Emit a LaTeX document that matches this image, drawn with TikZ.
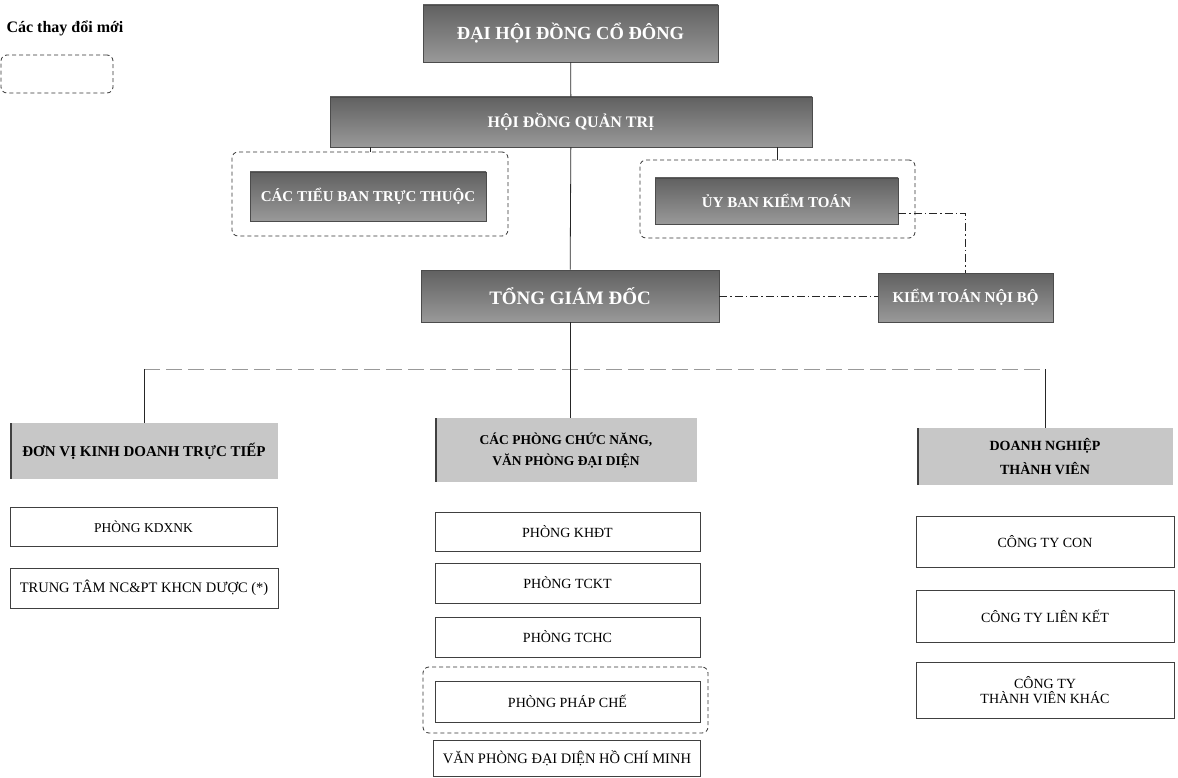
\documentclass[tikz,border=0pt]{standalone}
\usepackage{fontspec}
\setmainfont{Liberation Serif}
\usetikzlibrary{positioning}

\begin{document}
\begin{tikzpicture}[x=1pt,y=-1pt,
	darkbox/.style={draw=black!70, line width=0.6pt, top color=black!62, bottom color=black!40, text=white, font=\bfseries\fontsize{16}{18}\selectfont, inner sep=0pt},
	smalldark/.style={darkbox, font=\bfseries\fontsize{15}{17}\selectfont},
	headbox/.style={fill=black!22, font=\bfseries\fontsize{14}{21}\selectfont, align=center, inner sep=0pt,
		path picture={\draw[line width=3pt, black!75] (path picture bounding box.north west) -- (path picture bounding box.south west);}},
	unitbox/.style={draw=black!75, line width=0.9pt, fill=white, font=\fontsize{14}{15}\selectfont, align=center, inner sep=0pt},
	newgroup/.style={draw=black!80, dash pattern=on 4pt off 3pt, rounded corners=6pt, line width=0.8pt, inner sep=0pt},
	link/.style={draw=black!85, line width=0.8pt},
	dotlink/.style={draw=black!85, line width=0.8pt, dash pattern=on 8pt off 3pt on 1.5pt off 3pt},
	buslink/.style={draw=black!40, line width=0.8pt, dash pattern=on 16pt off 6pt}]
	\useasboundingbox (0,0) rectangle (1178,778);
	%\draw[help lines] (0,0) grid[step=50] (1178,778);
	%CHU THICH
	\node[anchor=west, font=\bfseries\fontsize{16}{18}\selectfont] (legend) at (3,28) {Các thay đổi mới};
	\node[newgroup, minimum width=112pt, minimum height=38pt] (legendbox) at (57,74) {};
	%DAI HOI DONG CO DONG
	\node[darkbox, font=\bfseries\fontsize{18.5}{20}\selectfont, minimum width=295pt, minimum height=57pt] (dhdcd) at (570.5,33.5) {ĐẠI HỘI ĐỒNG CỔ ĐÔNG};
	%HOI DONG QUAN TRI
	\node[darkbox, minimum width=482pt, minimum height=50pt] (hdqt) at (571,122) {HỘI ĐỒNG QUẢN TRỊ};
	%CAC TIEU BAN
	\node[newgroup, minimum width=276pt, minimum height=84pt] (tbgroup) at (370,194) {};
	\node[smalldark, minimum width=236pt, minimum height=49pt] (tieuban) at (368,196.5) {CÁC TIỂU BAN TRỰC THUỘC};
	%UY BAN KIEM TOAN
	\node[newgroup, minimum width=275pt, minimum height=78pt] (ubgroup) at (777.5,199) {};
	\node[smalldark, minimum width=243pt, minimum height=46pt] (ubkt) at (776.5,201) {ỦY BAN KIỂM TOÁN};
	%TONG GIAM DOC
	\node[darkbox, font=\bfseries\fontsize{19}{21}\selectfont, minimum width=298pt, minimum height=52pt] (tgd) at (570,296) {TỔNG GIÁM ĐỐC};
	%KIEM TOAN NOI BO
	\node[smalldark, minimum width=175pt, minimum height=49pt] (ktnb) at (965.5,297.5) {KIỂM TOÁN NỘI BỘ};

	%BA KHOI
	\node[headbox, font=\bfseries\fontsize{15}{21}\selectfont, minimum width=268pt, minimum height=56pt] (dvkd) at (144,451) {ĐƠN VỊ KINH DOANH TRỰC TIẾP};
	\node[headbox, font=\bfseries\fontsize{13.5}{21}\selectfont, minimum width=262pt, minimum height=64pt] (cpcn) at (566,450) {CÁC PHÒNG CHỨC NĂNG,\\VĂN PHÒNG ĐẠI DIỆN};
	\node[headbox, minimum width=256pt, minimum height=57pt] (dntv) at (1045,456.5) {DOANH NGHIỆP\\[3pt]THÀNH VIÊN};

	%DON VI KINH DOANH
	\node[unitbox, font=\fontsize{13.5}{15}\selectfont, minimum width=267pt, minimum height=39pt] (kdxnk) at (143.5,526.5) {PHÒNG KDXNK};
	\node[unitbox, font=\fontsize{14.5}{16}\selectfont, minimum width=268pt, minimum height=40pt] (ttnc) at (144,588) {TRUNG TÂM NC\&PT KHCN DƯỢC (*)};
	%CAC PHONG
	\node[unitbox, minimum width=265pt, minimum height=39pt] (khdt) at (567.5,531.5) {PHÒNG KHĐT};
	\node[unitbox, minimum width=265pt, minimum height=40pt] (tckt) at (567.5,583) {PHÒNG TCKT};
	\node[unitbox, minimum width=265pt, minimum height=40pt] (tchc) at (567.5,637) {PHÒNG TCHC};
	\node[newgroup, minimum width=285pt, minimum height=66pt] (ppcgroup) at (565.5,700) {};
	\node[unitbox, minimum width=265pt, minimum height=41pt] (ppc) at (567.5,701.5) {PHÒNG PHÁP CHẾ};
	\node[unitbox, font=\fontsize{14.5}{16}\selectfont, minimum width=267pt, minimum height=36pt] (vpdd) at (567,758) {VĂN PHÒNG ĐẠI DIỆN HỒ CHÍ MINH};
	%DOANH NGHIEP THANH VIEN
	\node[unitbox, minimum width=258pt, minimum height=51pt] (ctc) at (1045,541.5) {CÔNG TY CON};
	\node[unitbox, minimum width=258pt, minimum height=52pt] (ctlk) at (1045,616) {CÔNG TY LIÊN KẾT};
	\node[unitbox, minimum width=258pt, minimum height=56pt] (cttvk) at (1045,690) {CÔNG TY\\THÀNH VIÊN KHÁC};

	%DUONG NOI
	\draw[link] (dhdcd) -- (hdqt);
	\draw[link] (tbgroup.north |- hdqt.south) -- (tbgroup.north);
	\draw[link] (ubgroup.north |- hdqt.south) -- (ubgroup.north);
	\draw[link] (hdqt) -- (tgd);
	\draw[dotlink] ([yshift=-12pt]ubkt.east) -| (ktnb.north);
	\draw[dotlink] (tgd.east) -- (tgd.east -| ktnb.west);
	\coordinate (busL) at (dvkd.north |- 0,369);
	\coordinate (busR) at (dntv.north |- 0,369);
	\draw[buslink] (busL) -- (busR);
	\draw[link] (tgd.south) -- (tgd.south |- cpcn.north);
	\draw[link] (busL) -- (dvkd.north);
	\draw[link] (busR) -- (dntv.north);
\end{tikzpicture}
\end{document}
